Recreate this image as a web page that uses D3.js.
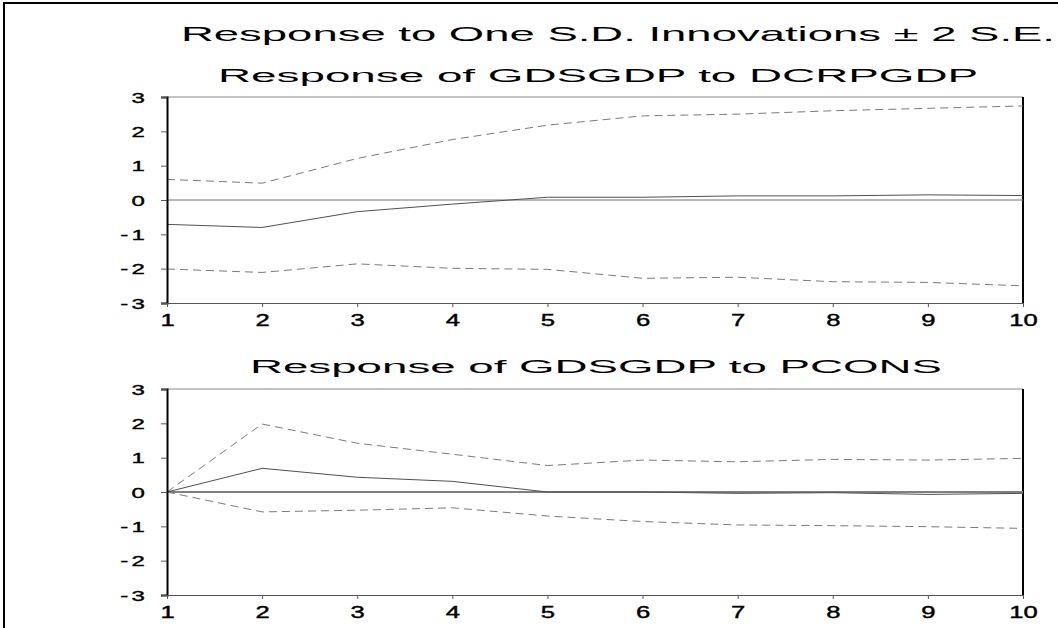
<!DOCTYPE html>
<html>
<head>
<meta charset="utf-8">
<script src="https://cdn.jsdelivr.net/npm/d3@7"></script>
<style>
  html, body { margin: 0; padding: 0; background: #fff; }
  svg { display: block; }
  text { font-family: Arial, "Liberation Sans", sans-serif; fill: #000; }
</style>
</head>
<body>
<svg id="chart" width="1058" height="628"></svg>
<script>
// ---------- DATA ----------
const periods = [1, 2, 3, 4, 5, 6, 7, 8, 9, 10];
const yTicks = [-3, -2, -1, 0, 1, 2, 3];
const mainTitle = "Response to One S.D. Innovations \u00B1 2 S.E.";

const panelTitles = ["Response of GDSGDP to DCRPGDP", "Response of GDSGDP to PCONS"];

// Panel 1: response of GDSGDP to DCRPGDP
const resp1  = [-0.71, -0.80, -0.34, -0.12, 0.08, 0.08, 0.12, 0.12, 0.15, 0.13];
const upper1 = [0.60, 0.49, 1.21, 1.76, 2.18, 2.45, 2.50, 2.60, 2.67, 2.74];
const lower1 = [-2.01, -2.11, -1.86, -1.99, -2.02, -2.28, -2.25, -2.38, -2.40, -2.50];

// Panel 2: response of GDSGDP to PCONS
const resp2  = [0.00, 0.69, 0.43, 0.31, 0.00, 0.00, -0.04, -0.02, -0.07, -0.04];
const upper2 = [0.00, 1.98, 1.42, 1.10, 0.77, 0.93, 0.88, 0.95, 0.93, 0.98];
const lower2 = [0.00, -0.58, -0.53, -0.46, -0.70, -0.86, -0.96, -0.98, -1.01, -1.06];

// ---------- LAYOUT ----------
const svg = d3.select("#chart");
const W = 1058, H = 628;

// outer frame (extends past right/bottom edge)
svg.append("rect")
  .attr("x", 4).attr("y", 3)
  .attr("width", W + 20).attr("height", H + 20)
  .attr("fill", "none").attr("stroke", "#000").attr("stroke-width", 2);

// main title
svg.append("text")
  .attr("x", 181).attr("y", 41)
  .attr("font-size", 21)
  .attr("textLength", 874)
  .attr("lengthAdjust", "spacingAndGlyphs")
  .text(mainTitle);

const plotLeft = 167, plotRight = 1023;
const panels = [
  { top: 97, bottom: 303, titleY: 82, titleX: 218, titleLen: 760, resp: resp1, up: upper1, lo: lower1, zeroW: 1, zeroC: "#707070" },
  { top: 389, bottom: 595, titleY: 373, titleX: 250, titleLen: 692, resp: resp2, up: upper2, lo: lower2, zeroW: 2, zeroC: "#808080" }
];

const x = d3.scaleLinear().domain([1, 10]).range([plotLeft, plotRight]);

panels.forEach((p, i) => {
  const y = d3.scaleLinear().domain([-3, 3]).range([p.bottom, p.top]);
  const g = svg.append("g");

  // panel title
  g.append("text")
    .attr("x", p.titleX).attr("y", p.titleY)
    .attr("font-size", 18)
    .attr("textLength", p.titleLen)
    .attr("lengthAdjust", "spacingAndGlyphs")
    .text(panelTitles[i]);

  // top border (gray) and right border (black)
  g.append("line")
    .attr("x1", plotLeft).attr("x2", plotRight)
    .attr("y1", p.top).attr("y2", p.top)
    .attr("stroke", "#888").attr("stroke-width", 1);
  g.append("line")
    .attr("x1", plotRight).attr("x2", plotRight)
    .attr("y1", p.top).attr("y2", p.bottom)
    .attr("stroke", "#000").attr("stroke-width", 2);

  // zero line
  g.append("line")
    .attr("x1", plotLeft).attr("x2", plotRight)
    .attr("y1", y(0)).attr("y2", y(0))
    .attr("stroke", p.zeroC).attr("stroke-width", p.zeroW);

  // bands (dashed)
  const line = d3.line().x((d, k) => x(periods[k])).y(d => y(d));
  [p.up, p.lo].forEach(arr => {
    g.append("path")
      .attr("d", line(arr))
      .attr("fill", "none")
      .attr("stroke", "#7a7a7a")
      .attr("stroke-width", 1)
      .attr("stroke-dasharray", "8,5");
  });
  // response (solid)
  g.append("path")
    .attr("d", line(p.resp))
    .attr("fill", "none")
    .attr("stroke", "#505050")
    .attr("stroke-width", 1);

  // y axis
  const yAx = g.append("g")
    .attr("transform", `translate(${plotLeft},0)`)
    .call(d3.axisLeft(y).tickValues(yTicks).tickSize(6).tickPadding(0)
      .tickFormat(d => d < 0 ? "-" + Math.abs(d) : String(d)));
  yAx.select(".domain").attr("stroke", "#000").attr("stroke-width", 2);
  yAx.selectAll(".tick line").attr("stroke", "#555");
  yAx.selectAll(".tick text")
    .attr("font-size", 15)
    .attr("font-family", "Arial, 'Liberation Sans', sans-serif")
    .attr("x", 0)
    .attr("dy", "0.35em")
    .attr("transform", "translate(-19,0) scale(1.6,1)")
    .style("letter-spacing", "2px")
    .attr("fill", "#000")
    .attr("stroke", "#000").attr("stroke-width", 0.4);

  // x axis
  const xAx = g.append("g")
    .attr("transform", `translate(0,${p.bottom})`)
    .call(d3.axisBottom(x).tickValues(periods).tickSize(4).tickPadding(0)
      .tickFormat(d3.format("d")));
  xAx.select(".domain").attr("stroke", "#555").attr("stroke-width", 1);
  xAx.selectAll(".tick line").attr("stroke", "#555");
  xAx.selectAll(".tick text")
    .attr("font-size", 16)
    .attr("font-family", "Arial, 'Liberation Sans', sans-serif")
    .attr("y", 0)
    .attr("dy", 0)
    .attr("transform", "translate(0,23) scale(1.6,1)")
    .attr("fill", "#000")
    .attr("stroke", "#000").attr("stroke-width", 0.4);
});
</script>
</body>
</html>
